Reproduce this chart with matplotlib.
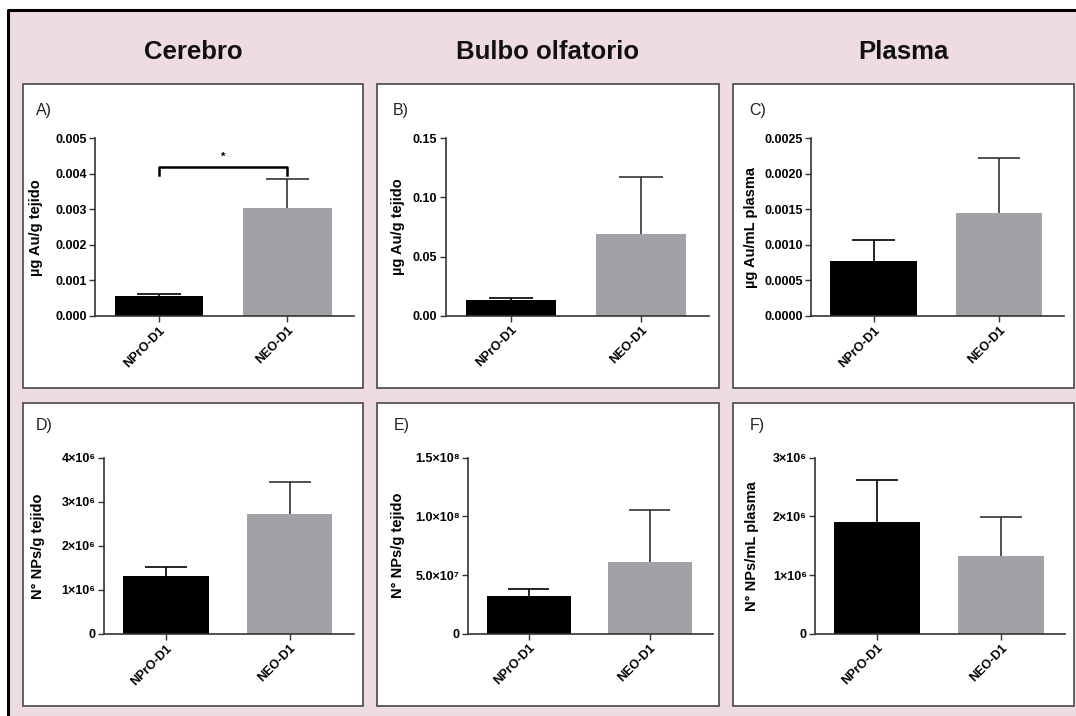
import matplotlib
matplotlib.use("Agg")
import matplotlib.pyplot as plt
from matplotlib.patches import Rectangle
from matplotlib.lines import Line2D

plt.rcParams['font.family'] = ['Liberation Sans', 'DejaVu Sans']

# data (mean and SEM, error bars drawn upward only)
groups = ['NPrO-D1', 'NEO-D1']
column_titles = ['Cerebro', 'Bulbo olfatorio', 'Plasma']
panel_letters = ['A)', 'B)', 'C)', 'D)', 'E)', 'F)']

cerebro_ug = [0.00055, 0.00305]
cerebro_ug_sem = [0.00007, 0.0008]
bulbo_ug = [0.0133, 0.0688]
bulbo_ug_sem = [0.0019, 0.0485]
plasma_ug = [0.00078, 0.00145]
plasma_ug_sem = [0.00029, 0.00077]

cerebro_nps = [1.32e6, 2.72e6]
cerebro_nps_sem = [0.19e6, 0.72e6]
bulbo_nps = [3.19e7, 6.14e7]
bulbo_nps_sem = [0.62e7, 4.4e7]
plasma_nps = [1.91e6, 1.32e6]
plasma_nps_sem = [0.71e6, 0.665e6]

ylabels = ['µg Au/g tejido', 'µg Au/g tejido', 'µg Au/mL plasma',
           'N° NPs/g tejido', 'N° NPs/g tejido', 'N° NPs/mL plasma']

yticks_a = [0, 0.001, 0.002, 0.003, 0.004, 0.005]
yticklabels_a = ['0.000', '0.001', '0.002', '0.003', '0.004', '0.005']
yticks_b = [0, 0.05, 0.10, 0.15]
yticklabels_b = ['0.00', '0.05', '0.10', '0.15']
yticks_c = [0, 0.0005, 0.0010, 0.0015, 0.0020, 0.0025]
yticklabels_c = ['0.0000', '0.0005', '0.0010', '0.0015', '0.0020', '0.0025']
yticks_d = [0, 1e6, 2e6, 3e6, 4e6]
yticklabels_d = ['0', '1×10⁶', '2×10⁶', '3×10⁶', '4×10⁶']
yticks_e = [0, 5e7, 1e8, 1.5e8]
yticklabels_e = ['0', '5.0×10⁷', '1.0×10⁸', '1.5×10⁸']
yticks_f = [0, 1e6, 2e6, 3e6]
yticklabels_f = ['0', '1×10⁶', '2×10⁶', '3×10⁶']

W, H = 1076, 716
PINK = '#efdce3'
BAR_COLORS = ['#000000', '#a1a1a7']
ERR_COLORS = ['#000000', '#333333']
BAR_W = 0.69
CAP_HALF = 0.17


def fig_rect(left, top, right, bottom):
    # pixel box (y from top) -> figure fraction rect
    return [left / W, 1 - bottom / H, (right - left) / W, (bottom - top) / H]


fig = plt.figure(figsize=(W / 100, H / 100), dpi=100, facecolor='white')

# pink background with black border on top and left
fig.patches.append(Rectangle((8 / W, 0), 1 - 8 / W, 1 - 9.5 / H, transform=fig.transFigure,
                             facecolor=PINK, edgecolor='none', zorder=-3))
fig.lines.append(Line2D([8 / W, 8 / W, 1], [0, 1 - 9.5 / H, 1 - 9.5 / H], transform=fig.transFigure,
                        color='black', lw=2.2, zorder=-2))

# white panel boxes
col_bounds = [(23, 363), (377, 719), (733, 1074)]
row_bounds = [(84, 388), (403, 706)]
for top, bottom in row_bounds:
    for left, right in col_bounds:
        fig.patches.append(Rectangle((left / W, 1 - bottom / H), (right - left) / W, (bottom - top) / H,
                                     transform=fig.transFigure, facecolor='white',
                                     edgecolor='#555555', lw=1.3, zorder=-1))

for (left, right), title in zip(col_bounds, column_titles):
    fig.text((left + right) / 2 / W, 1 - 52 / H, title, ha='center', va='center',
             fontsize=18.5, fontweight='bold', color='#111111')

# axes pixel boxes: left, top, right, bottom
axes_boxes = [(95, 138.3, 354, 316), (445.7, 138.3, 709, 315.7), (811, 138.3, 1064, 316),
              (104, 457.7, 354, 634), (468.3, 457.7, 712.7, 633.7), (815.3, 457.7, 1065.3, 633.7)]
label_x = [43, 405, 758, 45, 405, 759]
panel_data = [(cerebro_ug, cerebro_ug_sem, yticks_a, yticklabels_a),
              (bulbo_ug, bulbo_ug_sem, yticks_b, yticklabels_b),
              (plasma_ug, plasma_ug_sem, yticks_c, yticklabels_c),
              (cerebro_nps, cerebro_nps_sem, yticks_d, yticklabels_d),
              (bulbo_nps, bulbo_nps_sem, yticks_e, yticklabels_e),
              (plasma_nps, plasma_nps_sem, yticks_f, yticklabels_f)]

axes = []
for i, box in enumerate(axes_boxes):
    vals, sems, yt, ytl = panel_data[i]
    ax = fig.add_axes(fig_rect(*box))
    ax.set_facecolor('none')
    x = [0, 1]
    for j in range(2):
        top = vals[j] + sems[j]
        # upper error bar only: stem + cap
        ax.vlines(x[j], vals[j], top, color=ERR_COLORS[j], lw=1.2, zorder=2)
        ax.hlines(top, x[j] - CAP_HALF, x[j] + CAP_HALF, color=ERR_COLORS[j], lw=1.2, zorder=2)
        ax.bar(x[j], vals[j], width=BAR_W, color=BAR_COLORS[j], zorder=3)
    ax.set_xlim(-0.5, 1.52)
    ax.set_ylim(yt[0], yt[-1])
    ax.set_yticks(yt)
    ax.set_yticklabels(ytl, fontsize=9, fontweight='bold')
    ax.set_xticks(x)
    ax.set_xticklabels(groups, rotation=45, ha='right', rotation_mode='anchor',
                       fontsize=9, fontweight='bold')
    ax.tick_params(axis='both', direction='out', length=4, width=1, color='#333333', pad=2)
    for side in ['top', 'right']:
        ax.spines[side].set_visible(False)
    for side in ['left', 'bottom']:
        ax.spines[side].set_color('#333333')
        ax.spines[side].set_linewidth(1.2)
    ax.spines['left'].set_zorder(4)
    ax.spines['bottom'].set_zorder(4)
    ax.set_ylabel(ylabels[i], fontsize=10.5, fontweight='bold')
    ax.yaxis.set_label_coords((label_x[i] - box[0]) / (box[2] - box[0]), 0.5)
    axes.append(ax)

# panel letters
letter_pos = [(36, 110), (393, 110), (749, 110), (36, 425), (394, 425), (750, 425)]
for (px, py), letter in zip(letter_pos, panel_letters):
    fig.text(px / W, 1 - py / H, letter, ha='left', va='center', fontsize=11.5, color='#222222')

# significance bracket in panel A
ax = axes[0]
ax.plot([0, 0, 1, 1], [0.00397, 0.00418, 0.00418, 0.00397], color='black', lw=1.8, clip_on=False)
ax.text(0.5, 0.00447, '*', ha='center', va='center', fontsize=8, fontweight='bold')

fig.savefig('out.png', dpi=100, facecolor=fig.get_facecolor())
